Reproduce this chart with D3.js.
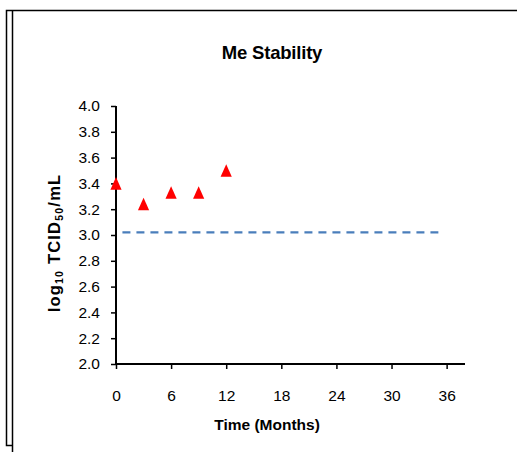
<!DOCTYPE html>
<html>
<head>
<meta charset="utf-8">
<script src="https://cdn.jsdelivr.net/npm/d3@7"></script>
<style>
  body { margin: 0; background: #fff; }
  text { font-family: "Liberation Sans", Arial, sans-serif; }
</style>
</head>
<body>
<div id="chart"></div>
<script>
// Data
const months = [0, 3, 6, 9, 12];
const titers = [3.40, 3.24, 3.33, 3.33, 3.50];
const limitX = [0.7, 35.1];
const limitY = 3.02;
const xTicks = [0, 6, 12, 18, 24, 30, 36];
const yTicks = [2.0, 2.2, 2.4, 2.6, 2.8, 3.0, 3.2, 3.4, 3.6, 3.8, 4.0];

const width = 517, height = 452;

const svg = d3.select("#chart").append("svg")
    .attr("width", width)
    .attr("height", height);

// Outer frame (double line on the left)
svg.append("path")
    .attr("d", "M517,10.5 H6.5 V445.5 H12.5")
    .attr("fill", "none")
    .attr("stroke", "#000")
    .attr("stroke-width", 1.5);
svg.append("line")
    .attr("x1", 12.5).attr("x2", 12.5)
    .attr("y1", 10.5).attr("y2", 452)
    .attr("stroke", "#000")
    .attr("stroke-width", 1.5);

const x = d3.scaleLinear().domain([0, 38]).range([116, 465]);
const y = d3.scaleLinear().domain([2, 4]).range([364, 106]);

// Axes
const yAxis = svg.append("g")
    .attr("transform", `translate(${x(0)},0)`)
    .call(d3.axisLeft(y).tickValues(yTicks).tickFormat(d3.format(".1f")).tickSize(5).tickPadding(11));
const xAxis = svg.append("g")
    .attr("transform", `translate(0,${y(2)})`)
    .call(d3.axisBottom(x).tickValues(xTicks).tickSize(5).tickPadding(21));

[xAxis, yAxis].forEach(g => {
    g.select(".domain").attr("stroke-width", 2);
    g.selectAll(".tick line").attr("stroke-width", 1.5);
    g.selectAll(".tick text")
        .attr("font-size", "15.5px")
        .attr("font-family", "'Liberation Sans', Arial, sans-serif")
        .attr("fill", "#000");
});
yAxis.select(".domain").attr("d", `M0,${y(4)}V${y(2)}`);
xAxis.select(".domain").attr("d", `M${x(0)},0H${x(38)}`);

// Threshold line
svg.append("line")
    .attr("x1", x(limitX[0]))
    .attr("x2", x(limitX[1]))
    .attr("y1", y(limitY))
    .attr("y2", y(limitY))
    .attr("stroke", "#4A7EBB")
    .attr("stroke-width", 2.2)
    .attr("stroke-dasharray", "8,6");

// Triangle markers
svg.selectAll(".pt")
    .data(months.map((m, i) => ({ m: m, v: titers[i] })))
    .enter().append("path")
    .attr("class", "pt")
    .attr("transform", d => `translate(${x(d.m)},${y(d.v)})`)
    .attr("d", "M0,-6.3L5.6,6.3L-5.6,6.3Z")
    .attr("fill", "#FF0000");

// Title
svg.append("text")
    .attr("x", 272)
    .attr("y", 59)
    .attr("text-anchor", "middle")
    .attr("font-size", "18.5px")
    .attr("font-weight", "bold")
    .attr("letter-spacing", "-0.2px")
    .text("Me Stability");

// X axis title
svg.append("text")
    .attr("x", 267)
    .attr("y", 430)
    .attr("text-anchor", "middle")
    .attr("font-size", "15.5px")
    .attr("font-weight", "bold")
    .text("Time (Months)");

// Y axis title with subscripts
const yTitle = svg.append("text")
    .attr("transform", "translate(60,243) rotate(-90)")
    .attr("text-anchor", "middle")
    .attr("font-size", "16.5px")
    .attr("font-weight", "bold")
    .attr("letter-spacing", "1.2px");
yTitle.append("tspan").text("log");
yTitle.append("tspan").attr("font-size", "10.5px").attr("dy", 3).text("10");
yTitle.append("tspan").attr("dy", -3).text(" TCID");
yTitle.append("tspan").attr("font-size", "10.5px").attr("dy", 3).text("50");
yTitle.append("tspan").attr("dy", -3).text("/mL");
</script>
</body>
</html>
